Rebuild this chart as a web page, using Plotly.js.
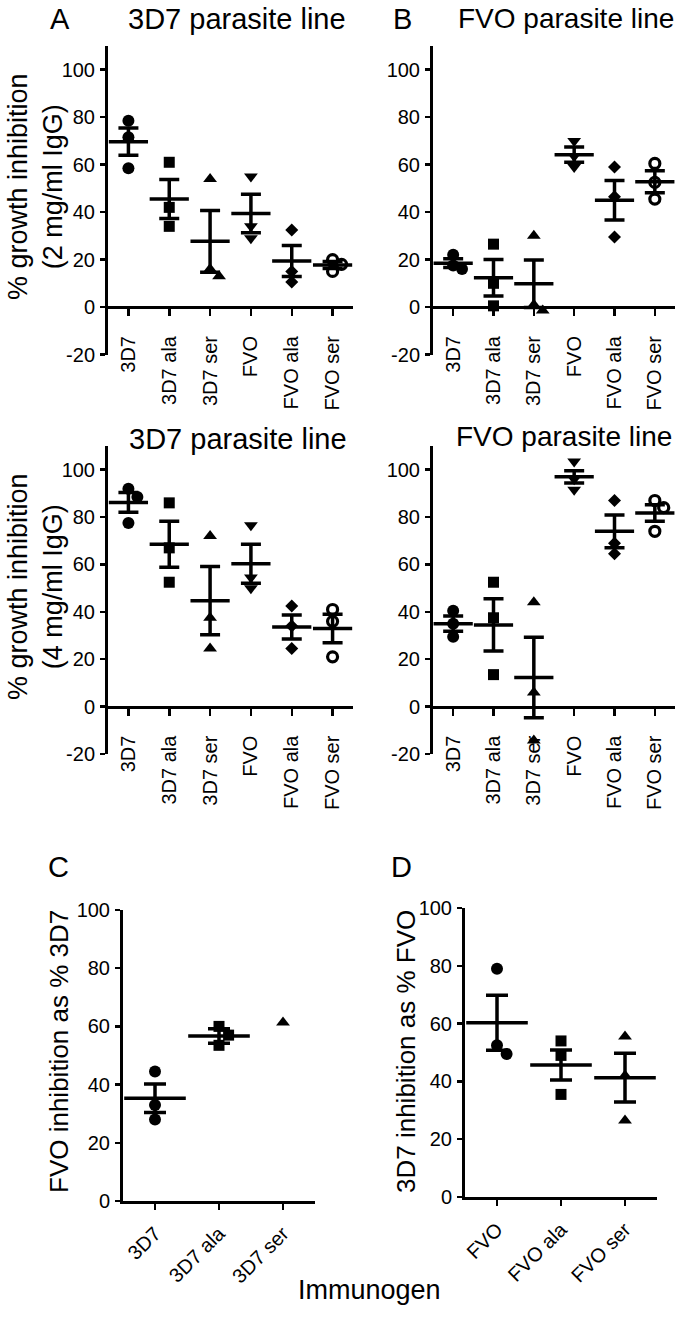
<!DOCTYPE html>
<html><head><meta charset="utf-8">
<script src="https://cdn.plot.ly/plotly-3.0.1.min.js"></script>
<style>html,body{margin:0;padding:0;background:#fff}#chart{width:680px;height:1336px}</style>
</head><body><div id="chart"></div>
<script>
// ---------- DATA ----------
const catsAB = ['3D7', '3D7 ala', '3D7 ser', 'FVO', 'FVO ala', 'FVO ser'];
const catsC = ['3D7', '3D7 ala', '3D7 ser'];
const catsD = ['FVO', 'FVO ala', 'FVO ser'];

// A (top): 3D7 parasite line, 2 mg/ml IgG
const a2Points = [[78.5, 71.5, 58.5], [61, 42, 34], [54, 16, 13], [55, 34, 29], [32.5, 15, 10.5], [20, 18, 15]];
const a2Mean = [69.7, 45.5, 27.7, 39.4, 19.4, 17.7];
const a2Sem = [5.7, 8.2, 13, 8.1, 6.5, 1.5];

// B (top): FVO parasite line, 2 mg/ml IgG
const b2Points = [[22, 17.5, 16], [26.5, 10, 0.5], [30, 1, -1.5], [70, 63.5, 59], [59, 46.5, 29.5], [60.5, 52.5, 45.5]];
const b2Mean = [18.5, 12.3, 9.8, 64.2, 45, 52.8];
const b2Sem = [1.8, 7.7, 10, 3.2, 8.3, 4.6];

// A (middle): 3D7 parasite line, 4 mg/ml IgG
const a4Points = [[92, 88.5, 77.5], [86, 67, 52.5], [72, 37.5, 24.5], [76.5, 54.5, 50], [42.5, 34, 24.5], [41, 36, 21]];
const a4Mean = [86.2, 68.5, 44.7, 60.3, 33.6, 33];
const a4Sem = [4.2, 9.7, 14.4, 8.2, 5.1, 6];

// B (middle): FVO parasite line, 4 mg/ml IgG
const b4Points = [[40.5, 35, 29.5], [52.5, 37.5, 13.5], [44, 6, -14.3], [103.5, 96, 91.5], [87, 69, 64.5], [87, 84, 74]];
const b4Mean = [35, 34.5, 12.3, 97, 74, 81.7];
const b4Sem = [3.2, 11, 17, 2.6, 6.9, 3.5];

// C: FVO inhibition as % 3D7
const cPoints = [[44.5, 33, 28], [60, 57, 53.5], [61.3]];
const cMean = [35.3, 56.7, null];
const cSem = [4.9, 2.5, null];

// D: 3D7 inhibition as % FVO
const dPoints = [[79, 52.5, 49.5], [54, 49, 35.5], [55.5, 42, 26.5]];
const dMean = [60.3, 45.7, 41.3];
const dSem = [9.5, 5.2, 8.4];

const yTicksAB = [-20, 0, 20, 40, 60, 80, 100];
const yTicksCD = [0, 20, 40, 60, 80, 100];

// ---------- HELPERS ----------
const W = 680, H = 1336;
const FONT = 'Liberation Sans, Arial, Helvetica, sans-serif';
const px = x => x / W;
const py = y => 1 - y / H;

function spread(vals, thr, step) {
  const offs = [];
  vals.forEach((v, i) => {
    const cands = [0, step, -step, 2 * step, -2 * step];
    for (const c of cands) {
      const clash = vals.slice(0, i).some((w, j) => Math.abs(w - v) < thr && Math.abs(offs[j] - c) < step * 0.9);
      if (!clash) { offs.push(c); break; }
    }
    if (offs.length < i + 1) offs.push(0);
  });
  return offs;
}

const symAB = ['circle', 'square', 'triangle-up', 'triangle-down', 'diamond', 'circle-open'];
const symCD = ['circle', 'square', 'triangle-up'];
const symSize = {'circle': 12, 'square': 11, 'triangle-up': 12, 'triangle-down': 12, 'diamond': 10, 'circle-open': 10};

const traces = [];
function addPanel(n, points, means, sems, symbols, o) {
  const xa = 'x' + (n === 1 ? '' : n), ya = 'y' + (n === 1 ? '' : n);
  points.forEach((vals, i) => {
    const offs = spread(vals, o.thr, o.step);
    const sym = symbols[i];
    const open = sym.endsWith('-open');
    traces.push({
      type: 'scatter', mode: 'markers', xaxis: xa, yaxis: ya, hoverinfo: 'skip',
      x: vals.map((v, k) => i + offs[k]), y: vals,
      marker: {symbol: sym, size: symSize[sym], color: '#000',
               line: {width: open ? 3.2 : 0, color: '#000'}},
      showlegend: false, cliponaxis: false
    });
  });
  means.forEach((m, i) => {
    if (m === null) return;
    traces.push({
      type: 'scatter', mode: 'markers', xaxis: xa, yaxis: ya, hoverinfo: 'skip',
      x: [i], y: [m],
      marker: {symbol: 'line-ew', size: o.meanW, color: '#000', line: {width: 3.5, color: '#000'}},
      error_y: {type: 'data', array: [sems[i]], visible: true, color: '#000', thickness: 3.5, width: o.capW},
      showlegend: false, cliponaxis: false
    });
  });
}

addPanel(1, a2Points, a2Mean, a2Sem, symAB, {thr: 4.4, step: 0.22, meanW: 28, capW: 10});
addPanel(2, b2Points, b2Mean, b2Sem, symAB, {thr: 4.4, step: 0.22, meanW: 28, capW: 10});
addPanel(3, a4Points, a4Mean, a4Sem, symAB, {thr: 4.4, step: 0.22, meanW: 28, capW: 10});
addPanel(4, b4Points, b4Mean, b4Sem, symAB, {thr: 4.4, step: 0.22, meanW: 28, capW: 10});
addPanel(5, cPoints, cMean, cSem, symCD, {thr: 3.6, step: 0.15, meanW: 44, capW: 11});
addPanel(6, dPoints, dMean, dSem, symCD, {thr: 3.6, step: 0.15, meanW: 44, capW: 11});

// ---------- AXES ----------
const tickFont = {family: FONT, size: 20, color: '#000'};
function yAxis(anchor, y0, y1, range, tickvals) {
  return {domain: [py(y1), py(y0)], range: range, tickvals: tickvals, ticktext: tickvals.map(String), anchor: anchor,
    showline: true, linewidth: 3, linecolor: '#000', ticks: 'outside', ticklen: 5, tickwidth: 2.5, tickcolor: '#000',
    showgrid: false, zeroline: false, tickfont: tickFont, ticklabelstandoff: 1, fixedrange: true};
}
function xAxisZero(x0, x1, y0, y1, cats, yr) {
  const d0 = py(y1), d1 = py(y0);
  const pos = d0 + (0 - yr[0]) / (yr[1] - yr[0]) * (d1 - d0);
  return {domain: [px(x0), px(x1)], range: [-0.5, cats.length - 0.5], tickvals: cats.map((c, i) => i), ticktext: cats,
    tickangle: -90, anchor: 'free', position: pos,
    showline: true, linewidth: 3, linecolor: '#000', ticks: 'outside', ticklen: 7, tickwidth: 2.5, tickcolor: '#000',
    showgrid: false, zeroline: false, tickfont: tickFont, ticklabelstandoff: 12, fixedrange: true};
}
function xAxisBottom(anchor, x0, x1, cats) {
  return {domain: [px(x0), px(x1)], range: [-0.5, cats.length - 0.5], tickvals: cats.map((c, i) => i), ticktext: cats,
    tickangle: -45, anchor: anchor,
    showline: true, linewidth: 3, linecolor: '#000', ticks: 'outside', ticklen: 6, tickwidth: 2.5, tickcolor: '#000',
    showgrid: false, zeroline: false, tickfont: tickFont, ticklabelstandoff: 4, fixedrange: true};
}

const yrAB = [-20, 110];
const yrCD = [0, 100];

const layout = {
  width: W, height: H, margin: {l: 0, r: 0, t: 0, b: 0},
  paper_bgcolor: '#fff', plot_bgcolor: 'rgba(0,0,0,0)', showlegend: false,
  font: {family: FONT, color: '#000'},
  xaxis: xAxisZero(108, 353, 46, 354.5, catsAB, yrAB),
  yaxis: yAxis('x', 46, 354.5, yrAB, yTicksAB),
  xaxis2: xAxisZero(433, 675, 46, 354.5, catsAB, yrAB),
  yaxis2: yAxis('x2', 46, 354.5, yrAB, yTicksAB),
  xaxis3: xAxisZero(108, 353, 446, 754, catsAB, yrAB),
  yaxis3: yAxis('x3', 446, 754, yrAB, yTicksAB),
  xaxis4: xAxisZero(433, 675, 446, 754, catsAB, yrAB),
  yaxis4: yAxis('x4', 446, 754, yrAB, yTicksAB),
  xaxis5: xAxisBottom('y5', 123, 315, catsC),
  yaxis5: yAxis('x5', 910, 1201, yrCD, yTicksCD),
  xaxis6: xAxisBottom('y6', 465, 657, catsD),
  yaxis6: yAxis('x6', 908, 1197, yrCD, yTicksCD),
  annotations: []
};

function ann(text, x, y, size, angle) {
  layout.annotations.push({text: text, x: px(x), y: py(y), xref: 'paper', yref: 'paper',
    xanchor: 'center', yanchor: 'middle', showarrow: false, textangle: angle || 0,
    font: {family: FONT, size: size, color: '#000'}});
}
ann('A', 60, 19, 29);
ann('B', 402, 19, 29);
ann('C', 58, 867, 29);
ann('D', 401, 867, 29);
ann('3D7 parasite line', 237, 19, 29);
ann('FVO parasite line', 566, 19, 28);
ann('3D7 parasite line', 238, 439, 29);
ann('FVO parasite line', 564, 436, 28);
ann('% growth inhibition<br>(2 mg/ml IgG)', 35, 187, 27, -90);
ann('% growth inhibition<br>(4 mg/ml IgG)', 35, 587, 27, -90);
ann('FVO inhibition as % 3D7', 59, 1052, 26, -90);
ann('3D7 inhibition as % FVO', 406, 1052, 26, -90);
ann('Immunogen', 370, 1290, 27);

Plotly.newPlot('chart', traces, layout, {staticPlot: true, displayModeBar: false});
</script>
</body></html>
